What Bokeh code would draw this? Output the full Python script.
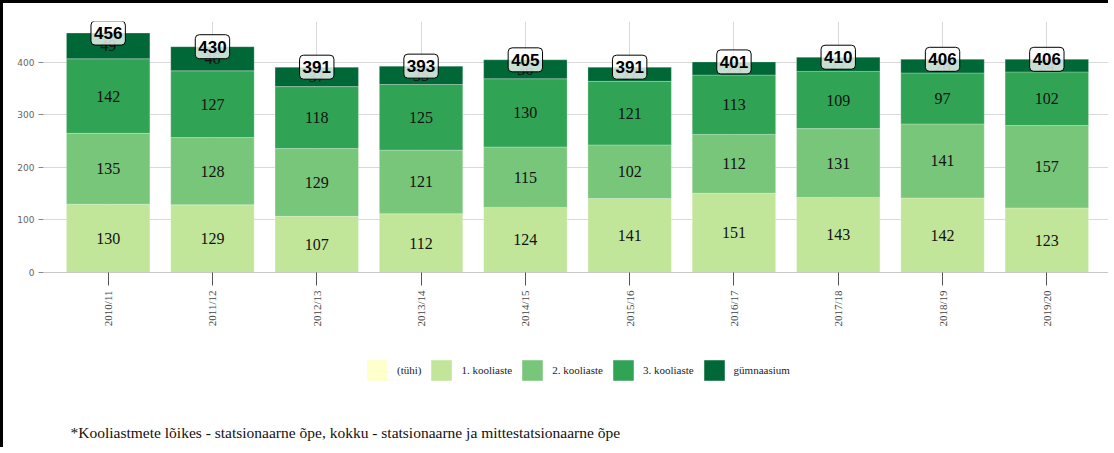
import math
import numpy as np
from bokeh.plotting import figure
from bokeh.models import (Range1d, FixedTicker, Legend, LegendItem, Label,
                          ColumnDataSource)
from bokeh.core.properties import value
from bokeh.embed import file_html
from bokeh.resources import INLINE

years = ["2010/11", "2011/12", "2012/13", "2013/14", "2014/15",
         "2015/16", "2016/17", "2017/18", "2018/19", "2019/20"]
series = ["(tühi)", "1. kooliaste", "2. kooliaste", "3. kooliaste", "gümnaasium"]
tuhi = [0, 0, 0, 0, 0, 0, 0, 0, 0, 0]
k1 = [130, 129, 107, 112, 124, 141, 151, 143, 142, 123]
k2 = [135, 128, 129, 121, 115, 102, 112, 131, 141, 157]
k3 = [142, 127, 118, 125, 130, 121, 113, 109, 97, 102]
gym = [49, 46, 37, 35, 36, 27, 25, 27, 26, 24]
totals = [456, 430, 391, 393, 405, 391, 401, 410, 406, 406]
colors = ["#ffffcc", "#c2e699", "#78c679", "#31a354", "#006837"]
yticks = [0, 100, 200, 300, 400]
footnote = "*Kooliastmete lõikes - statsionaarne õpe, kokku - statsionaarne ja mittestatsionaarne õpe"

xs = list(range(len(years)))
keys = ["tuhi", "k1", "k2", "k3", "gym"]
data = dict(x=xs, tuhi=tuhi, k1=k1, k2=k2, k3=k3, gym=gym)
src = ColumnDataSource(data)

W, H = 1108, 447
YTOP = 478
p = figure(width=W, height=H, output_backend="svg", toolbar_location=None,
           x_range=Range1d(-0.62, 9.62), y_range=Range1d(-339, YTOP),
           min_border_left=40, min_border_right=0, min_border_top=18,
           min_border_bottom=0)
p.styles = {"border-top": "3px solid black", "border-left": "3px solid black"}
p.outline_line_color = None
p.background_fill_color = "white"

renderers = p.vbar_stack(keys, x="x", width=0.8, source=src, fill_color=colors,
                         line_color="white", line_alpha=0.25, line_width=1)

# segment labels
vals = [np.array(k1), np.array(k2), np.array(k3), np.array(gym)]
base = np.zeros(len(xs))
lx, ly, lt = [], [], []
for v in vals:
    mid = base + v / 2
    lx += xs
    ly += list(mid)
    lt += [str(int(t)) for t in v]
    base = base + v
p.text(x=lx, y=ly, text=lt, text_align="center", text_baseline="middle",
       text_font=value("Liberation Serif"), text_font_size="16px",
       text_color="#111111")

# totals
p.text(x=xs, y=totals, text=[str(t) for t in totals], text_align="center",
       text_baseline="middle", text_font=value("Liberation Sans"),
       text_font_style="bold", text_font_size="17px", text_color="black",
       background_fill_color="white", background_fill_alpha=0.78,
       border_line_color="black", border_line_width=1, padding=(3, 6),
       border_radius=4)

# axes
p.xaxis.fixed_location = 0
p.xaxis.ticker = FixedTicker(ticks=xs)
p.xaxis.major_label_overrides = {i: y for i, y in enumerate(years)}
p.xaxis.major_label_orientation = math.pi / 2
p.xaxis.major_label_text_font = "Liberation Serif"
p.xaxis.major_label_text_font_size = "11px"
p.xaxis.major_label_text_color = "#444444"
p.xaxis.major_tick_in = 0
p.xaxis.major_tick_out = 13
p.xaxis.major_tick_line_color = "#555555"
p.xaxis.minor_tick_line_color = None
p.xaxis.axis_line_color = "#c8c8c8"
p.xaxis.major_label_standoff = 5

p.yaxis.ticker = FixedTicker(ticks=yticks)
p.yaxis.major_label_text_font = "DejaVu Sans"
p.yaxis.major_label_text_font_size = "9px"
p.yaxis.major_label_text_color = "#666666"
p.yaxis.major_tick_in = 0
p.yaxis.major_tick_out = 5
p.yaxis.major_tick_line_color = "#888888"
p.yaxis.minor_tick_line_color = None
p.yaxis.axis_line_color = None
p.yaxis.major_label_standoff = 4

p.xgrid.grid_line_color = "#d9d9d9"
p.ygrid.grid_line_color = "#d9d9d9"
p.xgrid.ticker = FixedTicker(ticks=xs)
p.ygrid.ticker = FixedTicker(ticks=yticks)
p.xgrid.cross_bounds = (0, YTOP)

legend = Legend(items=[LegendItem(label=s, renderers=[r]) for s, r in zip(series, renderers)],
                orientation="horizontal", location=(321, 67),
                glyph_width=26, glyph_height=26, label_standoff=7, spacing=7,
                padding=0, margin=0, border_line_color=None,
                background_fill_alpha=0, label_text_font="Liberation Serif",
                label_text_font_size="11px", label_text_color="#222222")
p.add_layout(legend)

p.add_layout(Label(x=27, y=18, x_units="screen", y_units="screen",
                   text=footnote, text_font="Liberation Serif",
                   text_font_size="15.5px", text_baseline="middle",
                   text_color="#111111"))

open("out.html", "w").write(file_html(p, INLINE))
